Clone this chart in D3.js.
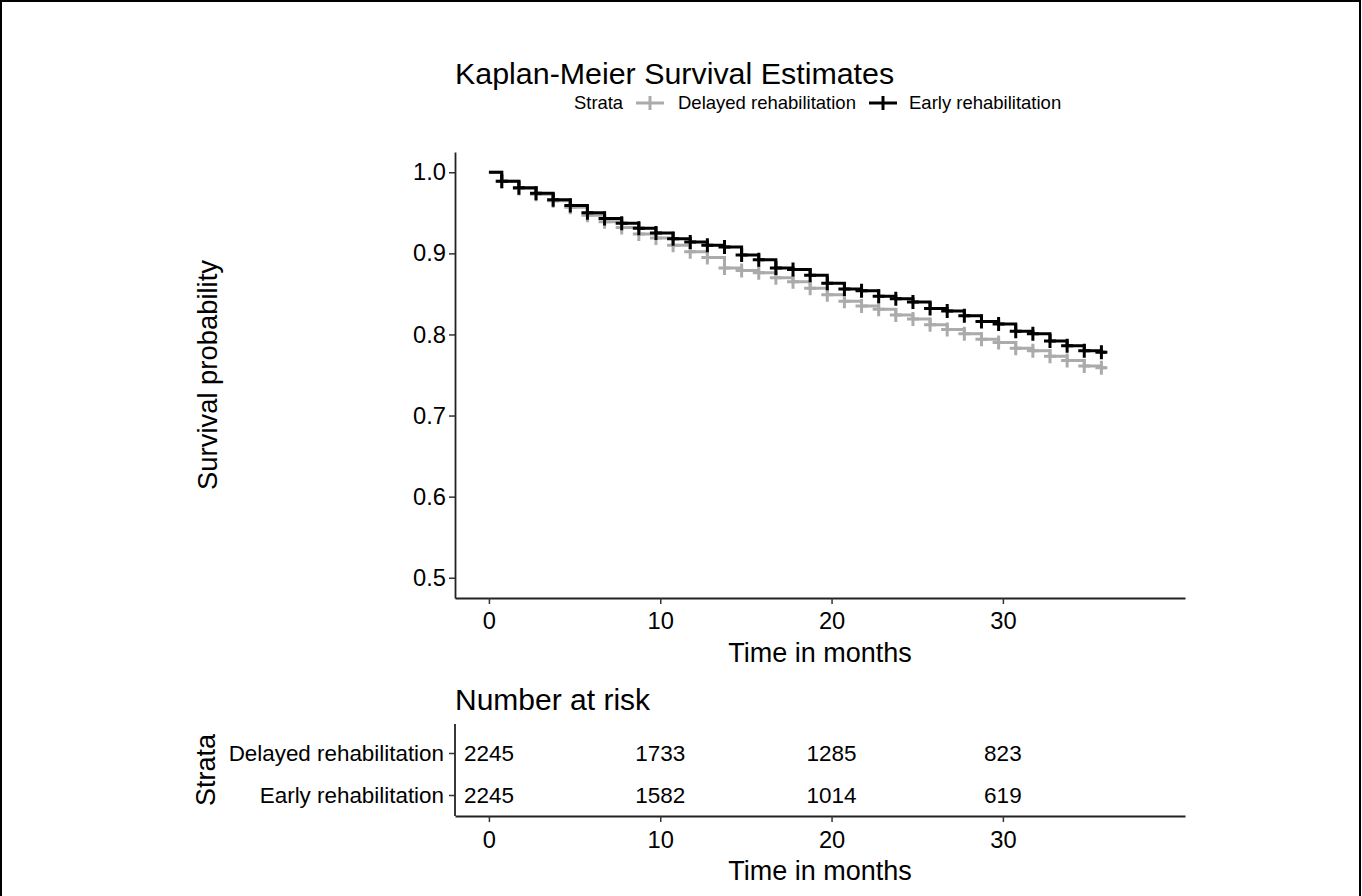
<!DOCTYPE html>
<html>
<head>
<meta charset="utf-8">
<script src="https://cdn.jsdelivr.net/npm/d3@7"></script>
<style>
  body { margin: 0; background: #fff; }
  text { font-family: "Liberation Sans", Arial, sans-serif; fill: #000; }
</style>
</head>
<body>
<div id="chart"></div>
<script>
let width = 1362, height = 896;

// data
let strata = ['Delayed rehabilitation', 'Early rehabilitation'];
let times = [0.75, 1.75, 2.75, 3.75, 4.75, 5.75, 6.75, 7.75, 8.75, 9.75,
             10.75, 11.75, 12.75, 13.75, 14.75, 15.75, 16.75, 17.75, 18.75, 19.75,
             20.75, 21.75, 22.75, 23.75, 24.75, 25.75, 26.75, 27.75, 28.75, 29.75,
             30.75, 31.75, 32.75, 33.75, 34.75, 35.75];
let endTime = 36;
let delayedSurv = [0.989, 0.980, 0.973, 0.965, 0.957, 0.947, 0.939, 0.932, 0.924, 0.919,
                   0.910, 0.902, 0.895, 0.882, 0.879, 0.876, 0.870, 0.865, 0.857, 0.849,
                   0.841, 0.835, 0.831, 0.824, 0.819, 0.812, 0.806, 0.801, 0.794, 0.790,
                   0.783, 0.780, 0.773, 0.768, 0.761, 0.759];
let earlySurv = [0.989, 0.981, 0.974, 0.966, 0.959, 0.950, 0.943, 0.937, 0.931, 0.925,
                 0.918, 0.914, 0.910, 0.908, 0.898, 0.892, 0.882, 0.880, 0.873, 0.863,
                 0.856, 0.854, 0.847, 0.844, 0.840, 0.832, 0.829, 0.823, 0.816, 0.813,
                 0.804, 0.801, 0.792, 0.786, 0.780, 0.778];
let xTicks = [0, 10, 20, 30];
let yTicks = [0.5, 0.6, 0.7, 0.8, 0.9, 1.0];
let riskTimes = [0, 10, 20, 30];
let riskDelayed = [2245, 1733, 1285, 823];
let riskEarly = [2245, 1582, 1014, 619];

let colors = { 'Delayed rehabilitation': '#ababab', 'Early rehabilitation': '#000000' };
let labelColors = { 'Delayed rehabilitation': '#b3b3b3', 'Early rehabilitation': '#000000' };

let svg = d3.select('#chart')
    .append('svg')
    .attr('width', width)
    .attr('height', height);

// picture frame
svg.append('path')
    .attr('d', 'M1,896V1H1360V896')
    .attr('fill', 'none')
    .attr('stroke', '#000')
    .attr('stroke-width', 2);

let left = 455, right = 1185;
let x = d3.scaleLinear().domain([-1.98, 40.63]).range([left, right]);
let y = d3.scaleLinear().domain([0.475, 1.025]).range([598, 152]);

function styleAxis(g) {
    g.select('.domain').attr('stroke', '#222').attr('stroke-width', 1.8);
    g.selectAll('.tick line').attr('stroke', '#333').attr('stroke-width', 1.5);
    g.selectAll('.tick text').attr('fill', '#1a1a1a').style('font-family', '"Liberation Sans", Arial, sans-serif');
}

// title and legend
svg.append('text')
    .attr('x', left)
    .attr('y', 84)
    .style('font-size', '30.4px')
    .text('Kaplan-Meier Survival Estimates');

let legend = svg.append('g').attr('transform', 'translate(0,103)');
legend.append('text')
    .attr('x', 574).attr('dy', '0.35em')
    .style('font-size', '18.4px')
    .text('Strata');
let legendItems = [
    { name: strata[0], cx: 650, tx: 678 },
    { name: strata[1], cx: 883, tx: 909 }
];
legendItems.forEach(d => {
    legend.append('line')
        .attr('x1', d.cx - 14).attr('x2', d.cx + 14)
        .attr('stroke', colors[d.name]).attr('stroke-width', 3);
    legend.append('line')
        .attr('x1', d.cx).attr('x2', d.cx).attr('y1', -7).attr('y2', 7)
        .attr('stroke', colors[d.name]).attr('stroke-width', 3);
    legend.append('text')
        .attr('x', d.tx).attr('dy', '0.35em')
        .style('font-size', '18.5px')
        .text(d.name);
});

// survival panel axes
let yAxis = svg.append('g')
    .attr('transform', `translate(${left},0)`)
    .call(d3.axisLeft(y).tickValues(yTicks).tickFormat(d3.format('.1f')).tickSize(6).tickPadding(3).tickSizeOuter(0));
yAxis.selectAll('.tick text').style('font-size', '23.7px');
styleAxis(yAxis);

let xAxis = svg.append('g')
    .attr('transform', 'translate(0,598)')
    .call(d3.axisBottom(x).tickValues(xTicks).tickSize(6).tickPadding(8).tickSizeOuter(0));
xAxis.selectAll('.tick text').style('font-size', '23.7px');
styleAxis(xAxis);

svg.append('text')
    .attr('x', (left + right) / 2).attr('y', 662)
    .attr('text-anchor', 'middle')
    .style('font-size', '27px')
    .text('Time in months');

svg.append('text')
    .attr('transform', `translate(217,${(152 + 598) / 2}) rotate(-90)`)
    .attr('text-anchor', 'middle')
    .style('font-size', '27.4px')
    .text('Survival probability');

// step curves
let series = [
    { name: strata[0], surv: delayedSurv },
    { name: strata[1], surv: earlySurv }
];
series.forEach(s => {
    let pts = [[0, 1.0]];
    times.forEach((t, i) => pts.push([t, s.surv[i]]));
    pts.push([endTime, s.surv[s.surv.length - 1]]);
    let line = d3.line()
        .x(d => x(d[0]))
        .y(d => y(d[1]))
        .curve(d3.curveStepAfter);
    svg.append('path')
        .datum(pts)
        .attr('d', line)
        .attr('fill', 'none')
        .attr('stroke', colors[s.name])
        .attr('stroke-width', 3);
    svg.append('g')
        .selectAll('path')
        .data(times.map((t, i) => [t, s.surv[i]]))
        .enter()
        .append('path')
        .attr('d', d => {
            let cx = x(d[0]), cy = y(d[1]);
            return `M${cx - 6},${cy}H${cx + 6}M${cx},${cy - 7}V${cy + 7}`;
        })
        .attr('stroke', colors[s.name])
        .attr('stroke-width', 3);
});

// risk table
svg.append('text')
    .attr('x', left).attr('y', 710)
    .style('font-size', '30px')
    .text('Number at risk');

let ty = d3.scalePoint().domain(strata).range([753, 795]);
let tAxisY = svg.append('g')
    .attr('transform', `translate(${left},0)`)
    .call(d3.axisLeft(ty).tickSize(6).tickPadding(5).tickSizeOuter(0));
tAxisY.select('.domain').attr('d', 'M0,724V816');
tAxisY.selectAll('.tick text')
    .style('font-size', '22.4px');
styleAxis(tAxisY);
tAxisY.selectAll('.tick text').attr('fill', d => labelColors[d]);

let tAxisX = svg.append('g')
    .attr('transform', 'translate(0,816)')
    .call(d3.axisBottom(x).tickValues(xTicks).tickSize(6).tickPadding(9).tickSizeOuter(0));
tAxisX.selectAll('.tick text').style('font-size', '23.7px');
styleAxis(tAxisX);

let riskRows = [
    { name: strata[0], counts: riskDelayed },
    { name: strata[1], counts: riskEarly }
];
riskRows.forEach(r => {
    svg.append('g')
        .selectAll('text')
        .data(r.counts)
        .enter()
        .append('text')
        .attr('x', (d, i) => x(riskTimes[i]))
        .attr('y', ty(r.name))
        .attr('dy', '0.35em')
        .attr('text-anchor', 'middle')
        .style('font-size', '22.5px')
        .text(d => d);
});

svg.append('text')
    .attr('x', (left + right) / 2).attr('y', 880)
    .attr('text-anchor', 'middle')
    .style('font-size', '27px')
    .text('Time in months');

svg.append('text')
    .attr('transform', `translate(215,770) rotate(-90)`)
    .attr('text-anchor', 'middle')
    .style('font-size', '27px')
    .text('Strata');
</script>
</body>
</html>
